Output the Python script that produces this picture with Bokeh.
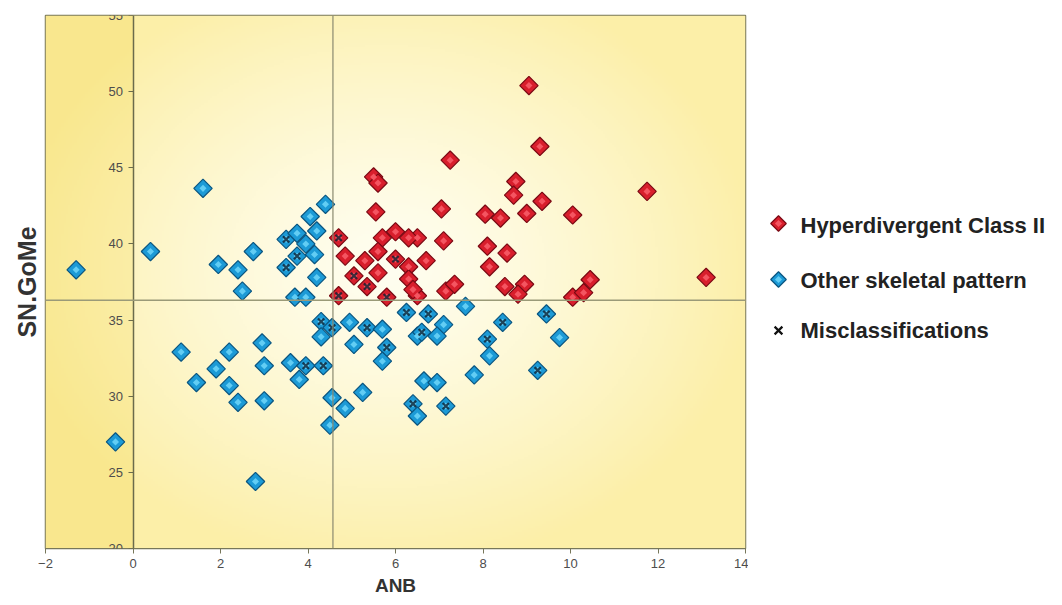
import numpy as np
from bokeh.plotting import figure
from bokeh.layouts import row
from bokeh.models import Span, Title, FixedTicker, ColumnDataSource
from bokeh.core.properties import value
from bokeh.embed import file_html
from bokeh.resources import INLINE

# ---------------- data ----------------
hyper_anb = [9.05, 9.3, 7.25, 5.5, 5.6, 8.75, 8.7, 9.35, 11.75, 7.05, 5.55, 8.05, 8.4, 9.0, 10.05,
             6.5, 7.1, 8.1, 8.55, 6.7, 8.15, 7.15, 7.35, 8.5, 8.95, 8.8, 10.05, 10.3, 10.45, 13.1,
             6.5, 4.7, 4.85, 5.3, 5.6, 5.7, 6.0, 6.3, 5.6, 6.0, 6.3, 5.05, 5.35, 4.7, 5.8, 6.3, 6.4]
hyper_sngome = [50.4, 46.4, 45.5, 44.4, 44.0, 44.1, 43.2, 42.8, 43.45, 42.3, 42.1, 41.95, 41.7, 42.0, 41.9,
                40.4, 40.2, 39.85, 39.4, 38.9, 38.5, 36.9, 37.35, 37.2, 37.35, 36.7, 36.5, 36.8, 37.65, 37.8,
                36.6, 40.4, 39.2, 38.9, 38.1, 40.4, 40.8, 40.4, 39.5, 39.0, 38.5, 37.9, 37.2, 36.6, 36.5, 37.7, 37.0]
hyper_mis = [0, 0, 0, 0, 0, 0, 0, 0, 0, 0, 0, 0, 0, 0, 0,
             0, 0, 0, 0, 0, 0, 0, 0, 0, 0, 0, 0, 0, 0, 0,
             0, 1, 0, 0, 0, 0, 0, 0, 0, 1, 0, 1, 1, 1, 1, 0, 0]

other_anb = [-1.3, 0.4, 1.95, 2.4, 2.75, 2.5, 1.6, 4.4, 4.05, 3.5, 3.75, 4.2, 3.95, 4.15, 3.75, 3.5,
             4.2, 3.7, 3.95, 4.3, 4.55, 4.3, 4.95, 5.35, 5.7, 5.05, 5.8, 5.7, 2.95, 3.0, 3.6, 3.95,
             4.35, 3.8, 3.0, 4.55, 5.25, 4.85, 4.5, 6.25, 6.5, 7.6, 6.75, 7.1, 6.6, 6.95, 8.45, 9.45,
             8.1, 8.15, 9.75, 9.25, 7.8, 6.65, 6.95, 7.15, 6.4, 6.5, 1.45, 1.9, 2.2, 2.4, 1.1, 2.2,
             -0.4, 2.8]
other_sngome = [38.3, 39.5, 38.65, 38.3, 39.5, 36.9, 43.65, 42.6, 41.8, 40.3, 40.7, 40.85, 40.0, 39.3, 39.2, 38.45,
                37.8, 36.5, 36.5, 34.9, 34.5, 33.9, 34.85, 34.5, 34.4, 33.4, 33.2, 32.3, 33.5, 32.0, 32.2, 32.0,
                32.0, 31.1, 29.7, 29.9, 30.25, 29.2, 28.1, 35.5, 33.95, 35.9, 35.4, 34.7, 34.2, 33.95, 34.85, 35.4,
                33.75, 32.65, 33.85, 31.7, 31.4, 31.0, 30.9, 29.35, 29.5, 28.7, 30.9, 31.8, 30.7, 29.6, 32.9, 32.9,
                27.0, 24.4]
other_mis = [0, 0, 0, 0, 0, 0, 0, 0, 0, 1, 0, 0, 0, 0, 1, 1,
             0, 0, 0, 1, 1, 0, 0, 1, 0, 0, 1, 0, 0, 0, 0, 1,
             1, 0, 0, 0, 0, 0, 0, 1, 0, 0, 1, 0, 1, 0, 1, 1,
             1, 0, 0, 1, 0, 0, 0, 1, 1, 0, 0, 0, 0, 0, 0, 0,
             0, 0]

x_ticks = [-2, 0, 2, 4, 6, 8, 10, 12, 14]
y_ticks = [20, 25, 30, 35, 40, 45, 50, 55]
anb_cut = 4.57
sngome_cut = 36.3
labels = ["Hyperdivergent Class II", "Other skeletal pattern", "Misclassifications"]

# ---------------- styles ----------------
RED = dict(marker="square", size=13, angle=np.pi / 4, fill_color="#D81E2C", line_color="#7a0a14", line_width=1.2)
RED_HI = dict(marker="square", size=5, angle=np.pi / 4, fill_color="#F45561", line_color=None)
BLUE = dict(marker="square", size=13, angle=np.pi / 4, fill_color="#1C9AD6", line_color="#0a5580", line_width=1.2)
BLUE_HI = dict(marker="square", size=5, angle=np.pi / 4, fill_color="#62CDF4", line_color=None)
MIS = dict(marker="x", size=9, line_color="#0e2233", line_width=2.2, line_alpha=0.8)

# ---------------- main figure ----------------
X0, X1, Y0, Y1 = -2, 14, 20, 55
TOP, BOTTOM = 15, 57
p = figure(width=748, height=605, x_range=(X0, X1), y_range=(Y0, Y1),
           output_backend="svg", toolbar_location=None,
           min_border_left=45, min_border_right=3, min_border_top=TOP, min_border_bottom=BOTTOM)
p.grid.visible = False
p.background_fill_color = "#FBEFA8"
p.border_fill_color = "white"
p.outline_line_color = "#77775a"
p.outline_line_width = 1.5

# background gradient (decorative)
nx, ny = 320, 240
gx = np.linspace(X0, X1, nx)
gy = np.linspace(Y0, Y1, ny)
GX, GY = np.meshgrid(gx, gy)
d = np.sqrt(((GX - 5.8) / 8.5) ** 2 + ((GY - 38.5) / 20.0) ** 2)
t = np.clip(d, 0, 1) ** 1.3
center = np.array([255, 254, 240])
edge = np.array([252, 239, 168])
rgb = center[None, None, :] * (1 - t[..., None]) + edge[None, None, :] * t[..., None]
left = GX < 0
rgb[left] = rgb[left] * np.array([0.99, 0.97, 0.85])
img = np.zeros((ny, nx), dtype=np.uint32)
view = img.view(dtype=np.uint8).reshape((ny, nx, 4))
view[..., 0] = rgb[..., 0].astype(np.uint8)
view[..., 1] = rgb[..., 1].astype(np.uint8)
view[..., 2] = rgb[..., 2].astype(np.uint8)
view[..., 3] = 255
p.image_rgba(image=[img], x=X0, y=Y0, dw=X1 - X0, dh=Y1 - Y0)

# reference lines
p.add_layout(Span(location=anb_cut, dimension="height", line_color="#8a8a70", line_width=1.2))
p.add_layout(Span(location=sngome_cut, dimension="width", line_color="#9a9a78", line_width=1.5))

# axes
p.xaxis.ticker = FixedTicker(ticks=x_ticks)
p.xaxis.axis_label = "ANB"
p.xaxis.axis_label_text_font = "Liberation Sans"
p.xaxis.axis_label_text_font_style = "bold"
p.xaxis.axis_label_text_font_size = "19px"
p.xaxis.axis_label_text_color = "#333333"
p.xaxis.axis_label_standoff = 4
p.xaxis.major_label_text_font = "Liberation Sans"
p.xaxis.major_label_text_font_size = "13px"
p.xaxis.major_label_text_color = "#4d4d4d"
p.xaxis.axis_line_color = "#77775a"
p.xaxis.major_tick_line_color = "#77775a"
p.xaxis.major_tick_out = 5
p.xaxis.major_tick_in = 0
p.xaxis.minor_tick_line_color = None

p.yaxis.ticker = FixedTicker(ticks=y_ticks)
p.yaxis.fixed_location = 0
p.yaxis.major_label_text_font = "Liberation Sans"
p.yaxis.major_label_text_font_size = "13px"
p.yaxis.major_label_text_color = "#4d4d4d"
p.yaxis.axis_line_color = "#6b6b4b"
p.yaxis.axis_line_width = 1.5
p.yaxis.major_tick_line_color = "#6b6b4b"
p.yaxis.major_tick_out = 5
p.yaxis.major_tick_in = 0
p.yaxis.minor_tick_line_color = None

p.add_layout(Title(text="SN.GoMe", align="center", text_font="Liberation Sans",
                   text_font_style="bold", text_font_size="25px", text_color="#333333"), "left")

# points
hs = ColumnDataSource(dict(x=hyper_anb, y=hyper_sngome))
os_ = ColumnDataSource(dict(x=other_anb, y=other_sngome))
p.scatter("x", "y", source=hs, **RED)
p.scatter("x", "y", source=hs, **RED_HI)
p.scatter("x", "y", source=os_, **BLUE)
p.scatter("x", "y", source=os_, **BLUE_HI)

mis_x = [a for a, m in zip(hyper_anb, hyper_mis) if m] + [a for a, m in zip(other_anb, other_mis) if m]
mis_y = [b for b, m in zip(hyper_sngome, hyper_mis) if m] + [b for b, m in zip(other_sngome, other_mis) if m]
p.scatter(mis_x, mis_y, **MIS)

# ---------------- legend panel (page-pixel coordinates, top-down) ----------------
QW, QH = 314, 605
# the row aligns this panel's frame with the main frame (TOP .. QH-BOTTOM)
q = figure(width=QW, height=QH, x_range=(0, QW), y_range=(QH - BOTTOM, TOP),
           output_backend="svg", toolbar_location=None, min_border=0)
q.axis.visible = False
q.grid.visible = False
q.outline_line_color = None
q.background_fill_color = "white"
row_y = [225, 280, 330]
glyph_x = 30
text_x = 52
q.scatter(x=[glyph_x], y=[row_y[0] - 2], marker="square", size=11, angle=np.pi / 4,
          fill_color="#D81E2C", line_color="#7a0a14", line_width=1.2)
q.scatter(x=[glyph_x], y=[row_y[0] - 2], **RED_HI)
q.scatter(x=[glyph_x], y=[row_y[1] - 1], marker="square", size=11, angle=np.pi / 4,
          fill_color="#1C9AD6", line_color="#0a5580", line_width=1.2)
q.scatter(x=[glyph_x], y=[row_y[1] - 1], **BLUE_HI)
q.scatter(x=[glyph_x], y=[row_y[2]], marker="x", size=11, line_color="#111111", line_width=2.2)
q.text(x=[text_x] * 3, y=row_y, text=labels, text_font=value("Liberation Sans"),
       text_font_style="bold", text_font_size="22px", text_color="#222222",
       text_baseline="middle", text_align="left")

layout = row(p, q, spacing=0)
open("out.html", "w").write(file_html(layout, INLINE))
